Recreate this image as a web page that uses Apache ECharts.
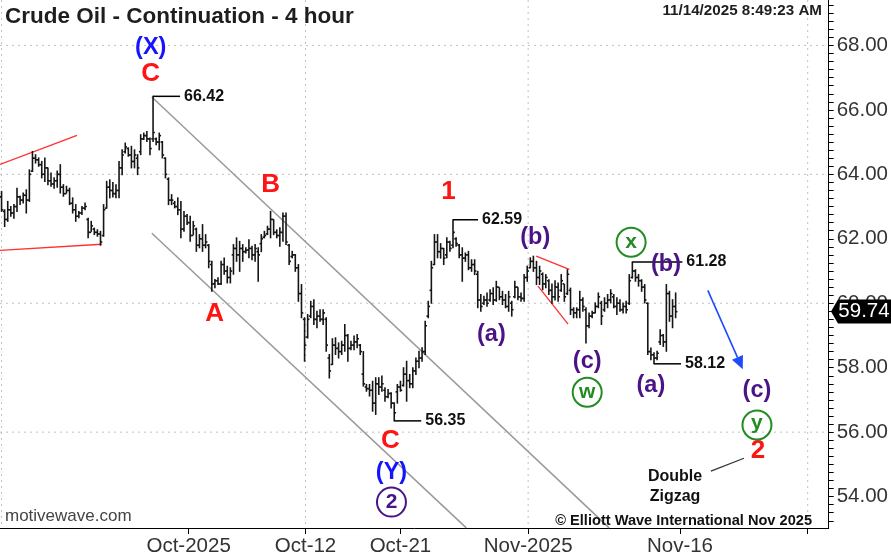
<!DOCTYPE html>
<html><head><meta charset="utf-8">
<script src="https://cdn.jsdelivr.net/npm/echarts@6/dist/echarts.min.js"></script>
<style>html,body{margin:0;padding:0;background:#fff}#c{width:891px;height:557px}</style>
</head><body><div id="c"></div>
<script>
// ---- data (4-hour OHLC bars) ----
const opens = [
63.3,62.85,62.6,62.9,62.8,63.0,63.3,63.2,63.35,63.2,
64.1,64.5,64.45,64.3,64.0,64.2,63.8,63.7,63.8,64.0,
63.6,63.4,63.5,63.1,62.9,62.7,62.8,62.95,62.6,62.2,
62.3,62.2,62.15,62.1,62.95,63.6,63.5,63.4,63.5,64.2,
64.7,64.8,64.6,64.4,64.5,64.7,65.1,65.2,65.1,65.1,
65.1,65.0,65.0,64.5,63.85,63.2,63.1,63.0,62.9,62.3,
62.7,62.5,62.1,62.3,61.8,62.0,61.8,61.8,61.2,60.6,
60.7,60.6,61.2,61.0,60.8,61.5,61.7,61.5,61.7,61.6,
61.65,61.7,61.5,61.6,61.85,62.05,62.15,62.3,62.6,62.2,
62.1,62.2,62.7,61.8,61.45,61.5,61.1,60.3,59.5,58.95,
59.6,59.9,59.5,59.6,59.5,59.5,58.3,58.1,58.7,58.6,
58.5,58.7,59.0,58.6,58.7,58.8,58.7,57.8,57.4,57.35,
57.3,56.9,57.5,57.4,57.3,57.1,57.2,56.9,57.25,57.4,
57.45,57.8,57.6,57.5,57.9,58.2,58.3,58.5,59.6,60.4,
61.2,61.9,61.6,61.7,61.5,61.9,61.8,62.0,61.8,61.5,
61.4,61.5,61.1,61.2,60.9,60.1,60.0,60.1,60.1,60.3,
60.1,60.5,60.2,60.1,59.9,60.0,60.2,60.5,60.2,60.15,
60.8,61.1,61.3,61.1,60.8,60.9,60.6,60.7,60.4,60.2,
60.5,60.4,60.6,60.3,60.4,59.8,59.7,59.8,60.1,59.8,
59.3,59.6,59.7,59.9,60.0,59.8,60.0,60.1,60.2,59.9,
60.0,59.8,59.9,60.0,60.8,61.0,60.8,60.7,60.5,60.0,
58.5,58.4,58.3,58.8,59.0,58.8,60.3,59.6,59.9
];
const highs = [
63.47,62.90,63.16,63.00,63.06,63.57,63.32,63.42,63.52,64.14,
64.71,64.61,64.51,64.40,64.51,64.20,64.04,63.89,64.10,64.30,
63.68,63.63,63.57,63.27,63.06,62.85,63.00,63.11,62.64,62.54,
62.33,62.28,62.23,63.06,63.78,63.83,63.75,63.68,64.40,64.76,
64.97,64.82,64.87,64.76,64.61,65.23,65.28,65.33,65.13,66.42,
65.13,65.28,65.02,64.51,63.89,63.37,63.16,63.27,63.16,62.85,
62.75,62.70,62.54,62.33,62.13,62.44,62.13,61.82,61.30,60.74,
60.79,61.30,61.40,61.15,61.10,61.82,62.03,61.92,61.82,61.72,
61.97,61.77,61.82,61.72,62.13,62.23,62.39,62.85,62.59,62.28,
62.34,62.80,62.80,61.82,61.61,61.51,61.20,60.58,59.55,59.65,
60.06,60.11,59.75,59.80,59.80,59.55,58.41,58.90,58.93,58.77,
58.82,59.34,59.03,58.82,58.98,59.03,58.72,58.50,57.48,57.48,
57.58,57.69,57.69,57.74,57.38,57.32,57.22,56.91,57.48,57.58,
58.00,58.20,57.79,58.00,58.30,58.51,58.62,59.44,60.06,61.30,
62.13,62.13,61.85,61.70,62.03,61.92,62.59,62.03,61.82,61.72,
61.56,61.61,61.35,61.35,60.99,60.27,60.22,60.32,60.42,60.48,
60.68,60.48,60.37,60.27,60.37,60.06,60.68,60.48,60.32,60.89,
61.15,61.41,61.46,61.30,61.15,60.94,60.89,60.73,60.60,60.70,
60.63,60.89,60.58,61.04,60.47,59.86,59.86,60.37,60.17,59.86,
59.70,59.75,60.01,60.32,60.06,60.17,60.27,60.42,60.27,60.17,
60.11,60.01,60.06,60.89,61.28,61.04,60.89,60.73,60.58,60.01,
58.61,58.46,58.51,59.18,59.03,60.58,60.37,60.11,60.32
];
const lows = [
62.85,62.38,62.54,62.70,62.64,62.85,63.06,63.11,62.80,63.16,
64.09,64.35,64.25,63.89,63.78,63.68,63.63,63.57,63.60,63.42,
63.32,63.42,63.06,62.80,62.54,62.65,62.75,62.90,62.03,62.23,
62.13,62.08,61.80,62.08,62.95,63.27,63.30,63.27,63.27,63.99,
64.66,64.56,64.20,64.20,63.99,64.61,65.08,65.02,64.61,65.02,
64.92,64.76,64.51,63.89,63.06,63.06,62.96,62.75,62.03,62.23,
62.44,61.92,62.13,61.61,61.72,61.61,61.72,61.10,60.37,60.48,
60.58,60.58,60.90,60.63,60.63,60.90,61.30,60.99,61.30,61.56,
61.41,61.35,61.30,60.68,61.60,62.03,62.13,62.03,62.13,62.03,
61.77,61.92,61.82,61.20,61.41,60.99,60.06,59.55,58.20,58.92,
59.55,59.34,59.24,59.44,59.34,58.51,57.68,58.10,58.41,58.30,
58.41,58.51,58.20,58.56,58.56,58.62,58.41,57.43,57.27,57.12,
56.65,56.55,57.17,57.27,56.96,57.07,56.75,56.35,56.90,57.27,
57.43,56.96,57.38,57.38,57.79,58.00,58.20,58.41,59.55,60.00,
61.20,61.41,61.40,61.20,61.41,61.61,61.72,61.77,61.41,60.68,
61.30,61.04,60.99,60.89,59.86,59.75,59.96,59.91,60.06,59.96,
60.06,60.11,59.96,59.86,59.75,59.60,60.17,60.11,60.06,60.06,
60.68,61.10,60.99,60.58,60.58,60.42,60.48,60.27,60.00,60.10,
60.06,60.37,60.06,60.27,59.65,59.55,59.55,59.55,59.75,58.77,
59.24,59.55,59.70,59.86,59.34,59.75,59.86,60.01,59.86,59.65,
59.75,59.70,59.70,59.96,60.78,60.68,60.53,60.37,60.01,58.41,
58.25,58.12,58.25,58.72,58.66,58.51,59.44,59.24,59.55
];
const closes = [
62.9,62.6,62.9,62.8,63.0,63.3,63.2,63.35,63.2,64.0,
64.5,64.45,64.3,64.0,64.2,63.8,63.7,63.8,64.0,63.6,
63.4,63.5,63.1,62.9,62.7,62.8,62.95,63.0,62.2,62.4,
62.2,62.15,61.9,62.9,63.6,63.5,63.4,63.5,64.2,64.6,
64.85,64.6,64.4,64.6,64.2,65.1,65.2,65.1,64.8,65.3,
65.0,65.2,64.6,64.0,63.2,63.2,63.0,62.9,62.3,62.7,
62.5,62.1,62.4,61.8,62.0,61.8,61.9,61.3,60.6,60.7,
60.6,61.2,61.0,60.8,61.0,61.7,61.5,61.7,61.6,61.65,
61.7,61.5,61.7,61.5,62.0,62.1,62.3,62.6,62.2,62.1,
62.2,62.7,61.9,61.3,61.5,61.1,60.3,59.7,58.7,59.5,
59.9,59.5,59.6,59.5,59.7,58.7,57.9,58.7,58.6,58.5,
58.7,59.0,58.6,58.7,58.8,58.9,58.5,57.5,57.35,57.3,
56.9,57.5,57.4,57.5,57.1,57.2,56.9,56.6,57.4,57.3,
57.8,57.6,57.5,57.9,58.2,58.3,58.5,59.3,59.9,61.1,
61.9,61.6,61.7,61.4,61.9,61.7,62.2,61.85,61.5,61.4,
61.5,61.1,61.2,61.0,60.1,59.9,60.1,60.0,60.3,60.1,
60.5,60.2,60.1,59.9,60.2,59.8,60.5,60.2,60.15,60.8,
61.0,61.3,61.1,60.8,61.0,60.6,60.8,60.4,60.2,60.5,
60.2,60.7,60.2,60.9,59.8,59.7,59.8,60.1,59.9,59.3,
59.6,59.7,59.9,60.2,59.6,60.0,60.1,60.3,59.9,60.0,
59.8,59.9,59.8,60.7,61.0,60.8,60.7,60.5,60.1,58.5,
58.4,58.3,58.45,59.0,58.8,60.3,59.6,59.9,59.74
];
const lastPrice = 59.74;
const totalSlots = 268;               // bars + projected future space
const xTickPos = [60.5, 98.3, 129, 170.3, 219.4, 260.7];
const xLabelPos = [60.5, 98.3, 129, 170.3, 219.4];
const xLabelText = ['Oct-2025', 'Oct-12', 'Oct-21', 'Nov-2025', 'Nov-16'];
const yLabelVals = [54, 56, 58, 60, 62, 64, 66, 68];
const yGridVals = [56, 60, 64, 68];
const xGridPos = [0, 98.3, 170.3, 260.7];

// annotations in chart coordinates [barPosition, price, text, colour]
const waveLabels = [
  [48.25, 67.94, '(X)', 'blue'], [48.25, 67.13, 'C', 'red'],
  [87.0, 63.66, 'B', 'red'], [68.9, 59.66, 'A', 'red'],
  [144.5, 63.47, '1', 'red'], [125.75, 55.72, 'C', 'red'],
  [126.1, 54.76, '(Y)', 'blue'],
  [172.6, 62.05, '(b)', 'purple'], [158.4, 59.04, '(a)', 'purple'],
  [189.4, 58.2, '(c)', 'purple'], [214.9, 61.21, '(b)', 'purple'],
  [210.0, 57.46, '(a)', 'purple'], [244.3, 57.30, '(c)', 'purple'],
  [244.6, 55.41, '2', 'red']
];
const circledLabels = [
  [126.1, 53.83, '2', 'purple'], [189.4, 57.24, 'w', 'green'],
  [203.6, 61.89, 'x', 'green'], [244.3, 56.22, 'y', 'green']
];
const priceNotes = [ // [bar index, price, label, connector length px]
  [49, 66.42, '66.42', 27], [146, 62.59, '62.59', 25], [127, 56.35, '56.35', 27],
  [211, 58.12, '58.12', 27], [204, 61.28, '61.28', 50]
];
const channelLines = [
  [[48.6, 66.40], [196.5, 53.03]],
  [[48.6, 62.17], [150.3, 53.03]]
];
const redLines = [
  [[-0.5, 64.31], [24.4, 65.21]],
  [[-0.5, 61.64], [32.4, 61.83]],
  [[172.9, 61.46], [183.6, 61.05]],
  [[173.5, 60.53], [183.2, 59.35]]
];
const projArrow = [[228.4, 60.40], [239.7, 57.95]];
const noteLine = [[229.4, 54.79], [240.1, 55.19]];

const COLORS = {red:'#ff1414', blue:'#1414ff', purple:'#4a1486', green:'#228b22'};
const FONT = '"Liberation Sans", Arial, sans-serif';

const bars = opens.map((o, i) => [i, o, highs[i], lows[i], closes[i]]);

const chart = echarts.init(document.getElementById('c'), null, {renderer: 'canvas'});
const option = {
  animation: false,
  backgroundColor: '#fff',
  grid: {left: 0, right: 61, top: 0, bottom: 28},
  xAxis: {
    type: 'value', min: -0.5, max: totalSlots - 0.5,
    axisLine: {show: true, onZero: false, lineStyle: {color: '#000', width: 1}},
    axisTick: {show: true, customValues: xTickPos, length: 6, lineStyle: {color: '#000'}},
    axisLabel: {
      customValues: xLabelPos, fontSize: 20.5, color: '#333', fontFamily: FONT, margin: 8,
      formatter: v => { let k = 0, d = 1e9; xLabelPos.forEach((p, j) => { if (Math.abs(p - v) < d) { d = Math.abs(p - v); k = j; } }); return xLabelText[k]; }
    },
    splitLine: {show: false}
  },
  yAxis: {
    type: 'value', position: 'right', min: 53.026, max: 69.409,
    axisLine: {show: true, onZero: false, lineStyle: {color: '#000', width: 1}},
    axisTick: {show: true, length: 5, lineStyle: {color: '#000'},
      customValues: Array.from({length: 66}, (_, k) => 53.25 + k * 0.25)},
    axisLabel: {customValues: yLabelVals, formatter: v => v.toFixed(2), fontSize: 20.5, color: '#333', fontFamily: FONT, margin: 8},
    splitLine: {show: false}
  },
  series: [{
    type: 'custom',
    data: bars,
    encode: {x: 0, y: [1, 2, 3, 4]},
    z: 5,
    renderItem: (params, api) => {
      const x = api.value(0);
      const pH = api.coord([x, api.value(2)]);
      const pL = api.coord([x, api.value(3)]);
      const pO = api.coord([x, api.value(1)]);
      const pC = api.coord([x, api.value(4)]);
      const st = {stroke: '#151515', lineWidth: 1.6};
      return {type: 'group', children: [
        {type: 'line', shape: {x1: pH[0], y1: pH[1] - 0.5, x2: pL[0], y2: pL[1] + 0.5}, style: st},
        {type: 'line', shape: {x1: pO[0] - 1.8, y1: pO[1], x2: pO[0], y2: pO[1]}, style: st},
        {type: 'line', shape: {x1: pC[0], y1: pC[1], x2: pC[0] + 1.8, y2: pC[1]}, style: st}
      ]};
    }
  }]
};
chart.setOption(option);

const px = (x, y) => chart.convertToPixel({gridIndex: 0}, [x, y]);
const g = [];
const gridRect = {l: 0, r: 830, t: 0, b: 529};
// dotted grid lines
yGridVals.forEach(v => { const p = px(0, v); g.push({type: 'line', z: 0, shape: {x1: gridRect.l, y1: p[1], x2: gridRect.r, y2: p[1]}, style: {stroke: '#c0c0c0', lineWidth: 1, lineDash: [2, 4]}}); });
xGridPos.forEach(v => { const p = px(v, 60); g.push({type: 'line', z: 0, shape: {x1: p[0], y1: gridRect.t, x2: p[0], y2: gridRect.b}, style: {stroke: '#c0c0c0', lineWidth: 1, lineDash: [2, 4]}}); });
// channel lines
channelLines.forEach(([a, b]) => { const p = px(a[0], a[1]), q = px(b[0], b[1]); g.push({type: 'line', z: 1, shape: {x1: p[0], y1: p[1], x2: q[0], y2: q[1]}, style: {stroke: '#9a9a9a', lineWidth: 1.5}}); });
redLines.forEach(([a, b]) => { const p = px(a[0], a[1]), q = px(b[0], b[1]); g.push({type: 'line', z: 1, shape: {x1: p[0], y1: p[1], x2: q[0], y2: q[1]}, style: {stroke: '#ff3030', lineWidth: 1.3}}); });
// projection arrow
(function () {
  const p = px(projArrow[0][0], projArrow[0][1]), q = px(projArrow[1][0], projArrow[1][1]);
  const dx = q[0] - p[0], dy = q[1] - p[1], L = Math.hypot(dx, dy), ux = dx / L, uy = dy / L;
  const hl = 13, hw = 6;
  const bx = q[0] - ux * hl, by = q[1] - uy * hl;
  g.push({type: 'line', z: 3, shape: {x1: p[0], y1: p[1], x2: bx, y2: by}, style: {stroke: '#1f4bff', lineWidth: 1.6}});
  g.push({type: 'polygon', z: 3, shape: {points: [[q[0], q[1]], [bx - uy * hw, by + ux * hw], [bx + uy * hw, by - ux * hw]]}, style: {fill: '#1f4bff'}});
})();
// note connector
(function () {
  const p = px(noteLine[0][0], noteLine[0][1]), q = px(noteLine[1][0], noteLine[1][1]);
  g.push({type: 'line', z: 3, shape: {x1: p[0], y1: p[1], x2: q[0], y2: q[1]}, style: {stroke: '#333', lineWidth: 1.3}});
})();
// price notes
priceNotes.forEach(([i, v, t, len]) => {
  const p = px(i, v);
  g.push({type: 'line', z: 6, shape: {x1: p[0], y1: p[1], x2: p[0] + len, y2: p[1]}, style: {stroke: '#000', lineWidth: 1.5}});
  g.push({type: 'text', z: 7, x: p[0] + len + 4, y: p[1], style: {text: t, fill: '#111', font: 'bold 16px ' + FONT, textAlign: 'left', textVerticalAlign: 'middle'}});
});
// wave labels
waveLabels.forEach(([x, y, t, c]) => {
  const p = px(x, y);
  const size = c === 'red' ? 26 : 23.5;
  g.push({type: 'text', z: 8, x: p[0], y: p[1], style: {text: t, fill: COLORS[c], font: 'bold ' + size + 'px ' + FONT, textAlign: 'center', textVerticalAlign: 'middle'}});
});
circledLabels.forEach(([x, y, t, c]) => {
  const p = px(x, y);
  g.push({type: 'circle', z: 8, shape: {cx: p[0], cy: p[1], r: 14.5}, style: {fill: 'rgba(255,255,255,0)', stroke: COLORS[c], lineWidth: 2}});
  g.push({type: 'text', z: 8, x: p[0], y: p[1] + (t === 'y' ? -2 : 0), style: {text: t, fill: COLORS[c], font: 'bold 21px ' + FONT, textAlign: 'center', textVerticalAlign: 'middle'}});
});
// last price tag on the axis
(function () {
  const p = px(0, lastPrice);
  const y = p[1], x0 = 831;
  g.push({type: 'polygon', z: 20, shape: {points: [[x0, y], [x0 + 7, y - 12], [891, y - 12], [891, y + 12], [x0 + 7, y + 12]]}, style: {fill: '#000'}});
  g.push({type: 'text', z: 21, x: 864, y: y, style: {text: lastPrice.toFixed(2), fill: '#fff', font: '20.5px ' + FONT, textAlign: 'center', textVerticalAlign: 'middle'}});
})();
// texts
g.push({type: 'text', z: 10, x: 5, y: 17, style: {text: 'Crude Oil - Continuation - 4 hour', fill: '#1e1e1e', font: 'bold 22.5px ' + FONT, textAlign: 'left', textVerticalAlign: 'middle'}});
g.push({type: 'text', z: 10, x: 822, y: 11, style: {text: '11/14/2025 8:49:23 AM', fill: '#1e1e1e', font: 'bold 15.2px ' + FONT, textAlign: 'right', textVerticalAlign: 'middle'}});
g.push({type: 'text', z: 10, x: 5, y: 516, style: {text: 'motivewave.com', fill: '#444', font: '17px ' + FONT, textAlign: 'left', textVerticalAlign: 'middle'}});
g.push({type: 'text', z: 10, x: 812, y: 521, style: {text: '\u00a9 Elliott Wave International Nov 2025', fill: '#111', font: 'bold 14.6px ' + FONT, textAlign: 'right', textVerticalAlign: 'middle'}});
g.push({type: 'text', z: 10, x: 675, y: 477, style: {text: 'Double', fill: '#111', font: 'bold 16px ' + FONT, textAlign: 'center', textVerticalAlign: 'middle'}});
g.push({type: 'text', z: 10, x: 675, y: 497, style: {text: 'Zigzag', fill: '#111', font: 'bold 16px ' + FONT, textAlign: 'center', textVerticalAlign: 'middle'}});
chart.setOption({graphic: g});
</script>
</body></html>
